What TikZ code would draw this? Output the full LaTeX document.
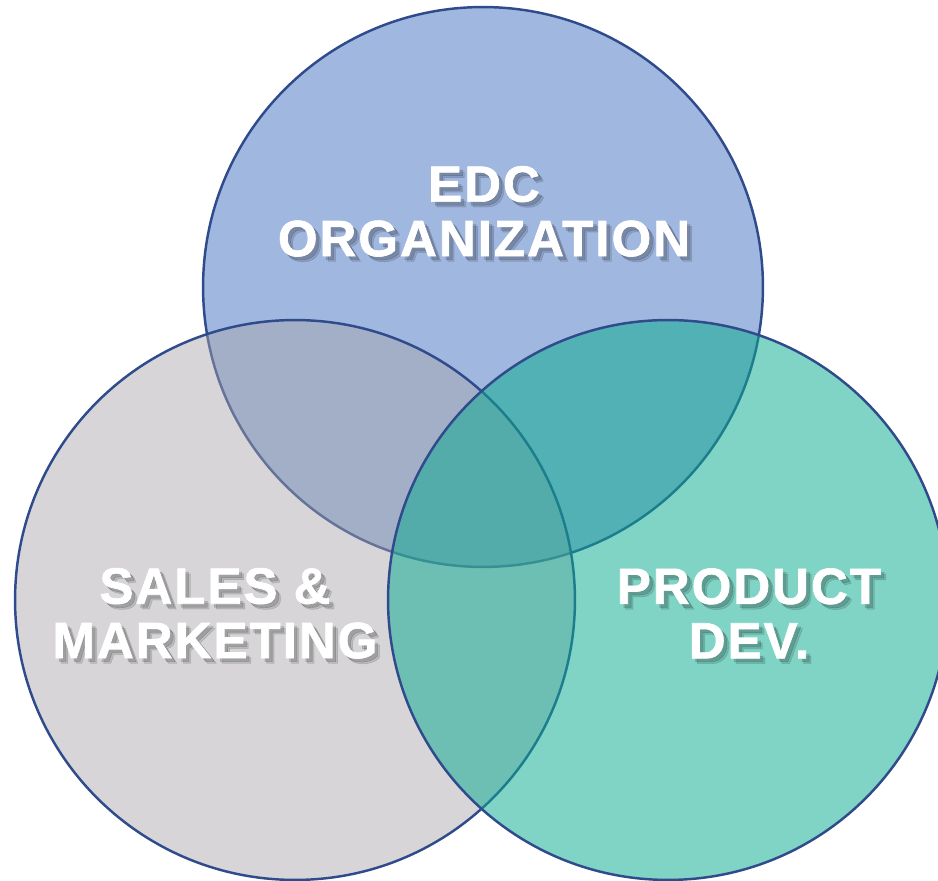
\documentclass[tikz,border=0pt]{standalone}
\usepackage{fontspec}
\setmainfont{Liberation Sans}
\usepackage{tikz}

\definecolor{edcblue}{RGB}{160,183,224}
\definecolor{salesgray}{RGB}{168,164,170}
\definecolor{prodteal}{RGB}{11,172,143}
\definecolor{rimblue}{RGB}{47,75,140}

% a line of text with a soft grey drop shadow behind it
\newcommand\shadowline[1]{%
  \rlap{\kern3pt\raisebox{-3pt}{\pgfsetfillopacity{0.12}\pgfsetstrokeopacity{0.12}\color{black}#1}}%
  \rlap{\kern2pt\raisebox{-2pt}{\pgfsetfillopacity{0.15}\pgfsetstrokeopacity{0.15}\color{black}#1}}%
  \pgfsetfillopacity{1}\pgfsetstrokeopacity{1}#1}

\tikzset{
  ring/.style={draw=rimblue,line width=1.4pt},
  bigword/.style={align=center,text=white,
    font=\bfseries\fontsize{29}{31}\selectfont\addfontfeature{LetterSpace=4,FakeBold=1.3}}
}

\begin{document}
\begin{tikzpicture}[x=0.02cm,y=-0.02cm]
\useasboundingbox (0,0) rectangle (938,881);

% the three circles, top one first
\filldraw[ring,fill=edcblue] (483,287) circle[radius=5.6cm];
\filldraw[ring,fill=salesgray,fill opacity=0.46] (295,600) circle[radius=5.6cm];
\filldraw[ring,fill=prodteal,fill opacity=0.52] (668,600) circle[radius=5.6cm];

% labels
\node[bigword] (edc) at (484,214) {\shadowline{EDC}\\\shadowline{ORGANIZATION}};
\node[bigword] (sales) at (215,616) {\shadowline{SALES \&}\\\shadowline{MARKETING}};
\node[bigword] (prod) at (749,616) {\shadowline{PRODUCT}\\\shadowline{DEV.}};
\end{tikzpicture}
\end{document}
